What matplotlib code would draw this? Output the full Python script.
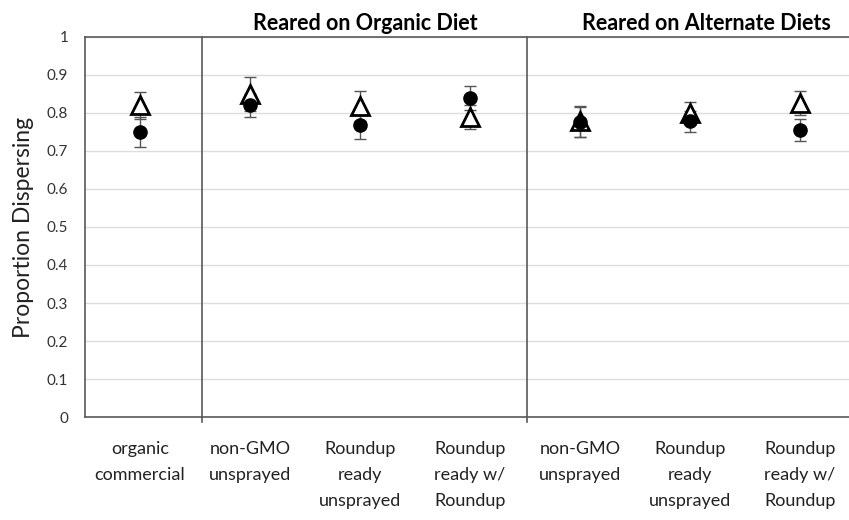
import matplotlib.pyplot as plt
import numpy as np

# categories along x
categories = ['organic\ncommercial', 'non-GMO\nunsprayed', 'Roundup\nready\nunsprayed',
              'Roundup\nready w/\nRoundup', 'non-GMO\nunsprayed', 'Roundup\nready\nunsprayed',
              'Roundup\nready w/\nRoundup']

# open triangles
tri_mean = [0.820, 0.850, 0.818, 0.790, 0.778, 0.800, 0.826]
tri_err = [0.035, 0.045, 0.040, 0.032, 0.040, 0.030, 0.032]

# filled circles
dot_mean = [0.750, 0.820, 0.768, 0.840, 0.776, 0.778, 0.755]
dot_err = [0.040, 0.030, 0.037, 0.032, 0.040, 0.027, 0.028]

group_labels = ['Reared on Organic Diet', 'Reared on Alternate Diets']
group_centers = [2.05, 5.15]
separators = [0.56, 3.52]

plt.rcParams['font.family'] = ['Lato', 'DejaVu Sans']

fig = plt.figure(figsize=(8.49, 5.2), dpi=100)
ax = fig.add_axes([0.1001, 0.198, 0.8999, 0.731])

x = np.arange(len(categories))

ax.errorbar(x, tri_mean, yerr=tri_err, fmt='none', ecolor='#555555',
            elinewidth=1, capsize=4.5, capthick=1, zorder=2)
ax.errorbar(x, dot_mean, yerr=dot_err, fmt='none', ecolor='#555555',
            elinewidth=1, capsize=4.5, capthick=1, zorder=2)
ax.plot(x, tri_mean, linestyle='none', marker='^', markersize=13,
        markerfacecolor='white', markeredgecolor='black', markeredgewidth=2, zorder=3)
ax.plot(x, dot_mean, linestyle='none', marker='o', markersize=9.5,
        color='black', zorder=4)

for s in separators:
    ax.axvline(s, color='#595959', linewidth=1.2, ymin=-0.012, ymax=1, clip_on=False)

for lab, c in zip(group_labels, group_centers):
    ax.text(c, 1.036, lab, ha='center', va='center', fontsize=15.5,
            fontweight='bold', transform=ax.get_xaxis_transform())

ax.set_xlim(-0.5, 6.445)
ax.set_ylim(0, 1)
ax.set_yticks(np.arange(0, 1.01, 0.1))
ax.set_yticklabels(['0', '0.1', '0.2', '0.3', '0.4', '0.5', '0.6', '0.7', '0.8', '0.9', '1'])
ax.set_xticks(x)
ax.set_xticklabels(categories, va='top', linespacing=1.8)
ax.tick_params(axis='x', length=0, labelsize=13, pad=17, colors='#222222')
ax.tick_params(axis='y', length=0, labelsize=11, pad=12, colors='#333333')
ax.grid(axis='y', color='#dddddd', linewidth=1)
ax.set_axisbelow(True)

for side in ['left', 'bottom', 'top']:
    ax.spines[side].set_color('#595959')
    ax.spines[side].set_linewidth(1.2)
ax.spines['right'].set_visible(False)

ax.set_ylabel('Proportion Dispersing', fontsize=16.5, labelpad=9, color='#222222')

fig.savefig('out.png', dpi=100)
